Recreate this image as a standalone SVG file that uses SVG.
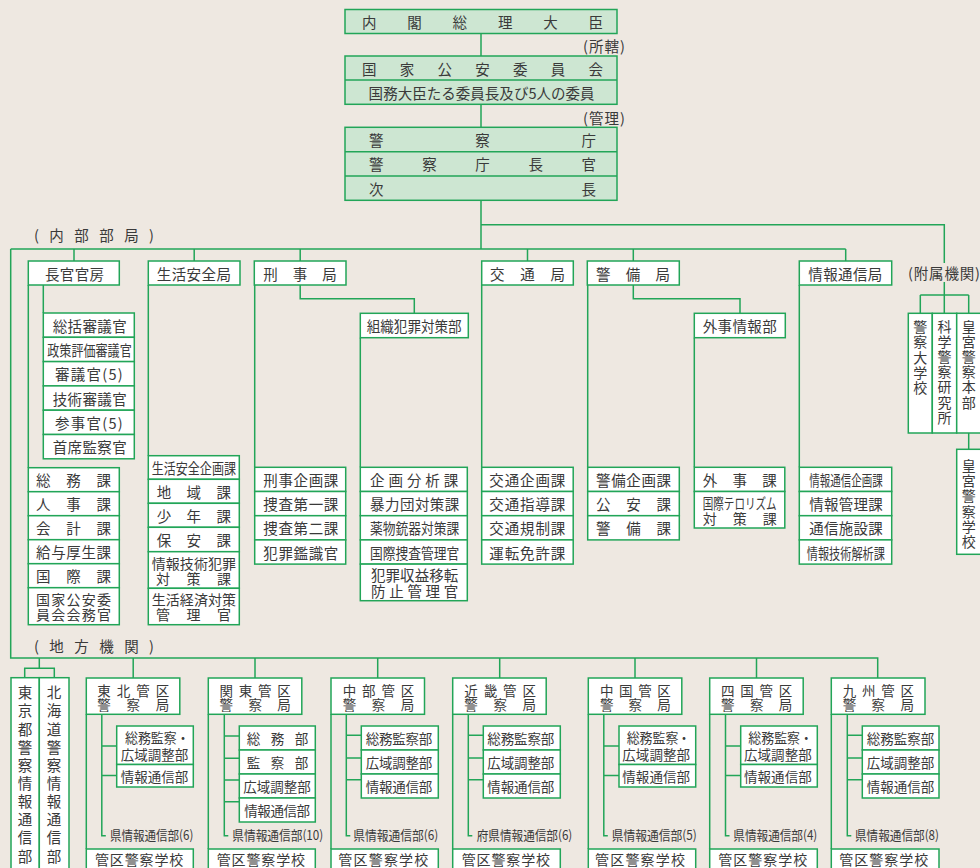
<svg xmlns="http://www.w3.org/2000/svg" width="980" height="868" viewBox="0 0 980 868">
<style>
.b{fill:#fff;stroke:#22a558;stroke-width:1.5}
.g{fill:#cde6d2;stroke:#22a558;stroke-width:1.5}
.ln{fill:none;stroke:#22a558;stroke-width:1.5}
.t{font-family:"Noto Sans CJK JP","Noto Sans",sans-serif;font-size:14.5px;fill:#3a3a3a;dominant-baseline:central}
.s{font-size:13px}
.r{font-size:13.5px}
.v{font-size:14px}
.m{text-anchor:middle}
.k{font-size:14px}
</style>
<rect width="980" height="868" fill="#eee8e1"/>

<g id="connectors">
<path class="ln" d="M481 33.5V56M481 104.3V127.3M481 200.3V249M481 224.7H944.3V263M944.3 282V295M920.3 295H968.7M920.3 295V313.3M944.3 295V313.3M968.7 295V313.3M968.7 433V449.3"/>
<path class="ln" d="M10.7 249H845.7M74 249V261M194.2 249V261M300.2 249V261M527.5 249V261M633.3 249V261M845.7 249V261"/>
<path class="ln" d="M28.3 285V467.7M43.3 285V313M148.3 285V455.7M254.7 285V467.3M300.2 285V298.7H414.3V313.3M360.3 337.7V467.3M481.7 285V467.3M587.7 285V467.3M633.3 285V298.7H740V313.3M694.3 337.7V467.3M799.3 285V467.3"/>
<path class="ln" d="M10.7 249V658H877.7V678M39.3 658V668.3M24.7 677.7V668.3H54.3V677.7M133.2 658V678M255 658V678M377.7 658V678M499.7 658V678M635 658V678M756.5 658V678"/>
<path class="ln" d="M86.3 714.3V849M101.8 714.3V835.7H105.8M101.8 746H116.7M101.8 775.5H116.7"/>
<path class="ln" d="M208.3 714.3V849M224.3 714.3V835.7H228.3M224.3 736H239.3M224.3 758.3H239.3M224.3 780H239.3M224.3 801.7H239.3"/>
<path class="ln" d="M331 714.3V849M346.3 714.3V835.7H350.3M346.3 735.3H361.3M346.3 758H361.3M346.3 779.7H361.3"/>
<path class="ln" d="M452.7 714.3V849M468.3 714.3V835.7H472.3M468.3 735.3H483.3M468.3 758H483.3M468.3 779.7H483.3"/>
<path class="ln" d="M588.3 714.3V849M603.8 714.3V835.7H607.8M603.8 746H619M603.8 775.5H619"/>
<path class="ln" d="M709.7 714.3V849M725.5 714.3V835.7H729.5M725.5 746H740.7M725.5 775.5H740.7"/>
<path class="ln" d="M831.3 714.3V849M847.3 714.3V835.7H851.3M847.3 735.3H862.3M847.3 758H862.3M847.3 779.7H862.3"/>
</g>

<g id="n-pm"><rect class="g" x="345" y="9.5" width="272" height="24"/><text class="t" x="362" y="21.5" textLength="241">内閣総理大臣</text></g>
<text class="t" x="583" y="45.5" textLength="42" font-size="14">(所轄)</text>
<g id="n-npsc"><rect class="g" x="345" y="56" width="272" height="48.3"/><path class="ln" d="M345 80H617"/>
<text class="t" x="362" y="68" textLength="241">国家公安委員会</text>
<text class="t" x="368.6" y="92" textLength="226">国務大臣たる委員長及び5人の委員</text></g>
<text class="t" x="583" y="117" textLength="42" font-size="14">(管理)</text>
<g id="n-npa"><rect class="g" x="345" y="127.3" width="272" height="73"/><path class="ln" d="M345 151.7H617M345 176H617"/>
<text class="t" x="369" y="139.5" textLength="227">警察庁</text>
<text class="t" x="369" y="163.8" textLength="227">警察庁長官</text>
<text class="t" x="369" y="188" textLength="227">次長</text></g>

<text class="t" x="34" y="234.3" textLength="120" font-size="13.5">(内部部局)</text>
<text class="t" x="908" y="272" textLength="72">(附属機関)</text>
<text class="t" x="34" y="645" textLength="120" font-size="13.5">(地方機関)</text>

<g id="n-chokan"><rect class="b" x="28.3" y="261" width="91" height="24"/><text class="t" x="45" y="273" textLength="59">長官官房</text></g>
<g id="n-seikatsu"><rect class="b" x="148.3" y="261" width="91.7" height="24"/><text class="t" x="156.7" y="273" textLength="74.3">生活安全局</text></g>
<g id="n-keiji"><rect class="b" x="254.3" y="261" width="91.7" height="24"/><text class="t" x="263.3" y="273" textLength="73.4">刑事局</text></g>
<g id="n-kotsu"><rect class="b" x="481.7" y="261" width="91.6" height="24"/><text class="t" x="490" y="273" textLength="75">交通局</text></g>
<g id="n-keibi"><rect class="b" x="587.3" y="261" width="92" height="24"/><text class="t" x="596" y="273" textLength="74">警備局</text></g>
<g id="n-joho"><rect class="b" x="799.3" y="261" width="92.4" height="24"/><text class="t" x="808.3" y="273" textLength="74">情報通信局</text></g>
<g id="n-soshiki"><rect class="b" x="360.3" y="313.3" width="108" height="24.4"/><text class="t" x="366.7" y="325.5" textLength="95" lengthAdjust="spacingAndGlyphs">組織犯罪対策部</text></g>
<g id="n-gaiji"><rect class="b" x="694.3" y="313.3" width="91" height="24.4"/><text class="t" x="702.7" y="325.5" textLength="74">外事情報部</text></g>

<g id="n-chokan-staff">
<rect class="b" x="43.3" y="313" width="91" height="24.3"/><rect class="b" x="43.3" y="337.3" width="91" height="24.3"/><rect class="b" x="43.3" y="361.6" width="91" height="24.3"/><rect class="b" x="43.3" y="385.9" width="91" height="24.3"/><rect class="b" x="43.3" y="410.2" width="91" height="24.3"/><rect class="b" x="43.3" y="434.5" width="91" height="24.3"/>
<text class="t" x="52.7" y="325.2" textLength="74">総括審議官</text>
<text class="t" x="47.3" y="349.5" textLength="84.4" lengthAdjust="spacingAndGlyphs">政策評価審議官</text>
<text class="t" x="55" y="373.8" textLength="67.7">審議官(5)</text>
<text class="t" x="52.7" y="398.1" textLength="74">技術審議官</text>
<text class="t" x="55" y="422.4" textLength="67.7">参事官(5)</text>
<text class="t" x="52.7" y="446.7" textLength="74">首席監察官</text>
</g>
<g id="n-chokan-ka">
<rect class="b" x="28.3" y="467.7" width="91" height="24"/><rect class="b" x="28.3" y="491.7" width="91" height="24"/><rect class="b" x="28.3" y="515.7" width="91" height="24"/><rect class="b" x="28.3" y="539.7" width="91" height="24"/><rect class="b" x="28.3" y="563.7" width="91" height="24"/><rect class="b" x="28.3" y="587.7" width="91" height="37"/>
<text class="t" x="36" y="479.7" textLength="75">総務課</text>
<text class="t" x="36" y="503.7" textLength="75">人事課</text>
<text class="t" x="36" y="527.7" textLength="75">会計課</text>
<text class="t" x="36" y="551.7" textLength="75">給与厚生課</text>
<text class="t" x="36" y="575.7" textLength="75">国際課</text>
<text class="t k" x="36" y="598.7" textLength="75">国家公安委</text>
<text class="t k" x="36" y="613.5" textLength="75">員会会務官</text>
</g>
<g id="n-seikatsu-ka">
<rect class="b" x="148.3" y="455.7" width="91" height="23.6"/><rect class="b" x="148.3" y="479.3" width="91" height="24"/><rect class="b" x="148.3" y="503.3" width="91" height="24"/><rect class="b" x="148.3" y="527.3" width="91" height="24.4"/><rect class="b" x="148.3" y="551.7" width="91" height="36.6"/><rect class="b" x="148.3" y="588.3" width="91" height="36.4"/>
<text class="t" x="151.7" y="467.5" textLength="84.3" lengthAdjust="spacingAndGlyphs">生活安全企画課</text>
<text class="t" x="156.7" y="491.3" textLength="74.3">地域課</text>
<text class="t" x="156.7" y="515.3" textLength="74.3">少年課</text>
<text class="t" x="156.7" y="539.5" textLength="74.3">保安課</text>
<text class="t k" x="151.7" y="562.5" textLength="84.3">情報技術犯罪</text>
<text class="t k" x="156" y="577.8" textLength="75">対策課</text>
<text class="t k" x="151.7" y="599.3" textLength="84.3">生活経済対策</text>
<text class="t k" x="156" y="614.3" textLength="75">管理官</text>
</g>
<g id="n-keiji-ka">
<rect class="b" x="254.7" y="467.3" width="91" height="24.2"/><rect class="b" x="254.7" y="491.5" width="91" height="24.2"/><rect class="b" x="254.7" y="515.7" width="91" height="24.2"/><rect class="b" x="254.7" y="539.9" width="91" height="24.2"/>
<text class="t" x="263.3" y="479.4" textLength="75">刑事企画課</text>
<text class="t" x="263.3" y="503.6" textLength="75">捜査第一課</text>
<text class="t" x="263.3" y="527.8" textLength="75">捜査第二課</text>
<text class="t" x="263.3" y="552" textLength="75">犯罪鑑識官</text>
</g>
<g id="n-soshiki-ka">
<rect class="b" x="360.3" y="467.3" width="107" height="24.2"/><rect class="b" x="360.3" y="491.5" width="107" height="24.2"/><rect class="b" x="360.3" y="515.7" width="107" height="24.2"/><rect class="b" x="360.3" y="539.9" width="107" height="24.2"/><rect class="b" x="360.3" y="564.1" width="107" height="36.6"/>
<text class="t" x="370" y="479.4" textLength="88.3">企画分析課</text>
<text class="t" x="370" y="503.6" textLength="89.3">暴力団対策課</text>
<text class="t" x="370" y="527.8" textLength="89.3" lengthAdjust="spacingAndGlyphs">薬物銃器対策課</text>
<text class="t" x="370" y="552" textLength="89.3" lengthAdjust="spacingAndGlyphs">国際捜査管理官</text>
<text class="t" x="371" y="574.7" textLength="87.3">犯罪収益移転</text>
<text class="t" x="371" y="590.2" textLength="87.3">防止管理官</text>
</g>
<g id="n-kotsu-ka">
<rect class="b" x="481.7" y="467.3" width="91.5" height="24.2"/><rect class="b" x="481.7" y="491.5" width="91.5" height="24.2"/><rect class="b" x="481.7" y="515.7" width="91.5" height="24.2"/><rect class="b" x="481.7" y="539.9" width="91.5" height="24.2"/>
<text class="t" x="489.3" y="479.4" textLength="76">交通企画課</text>
<text class="t" x="489.3" y="503.6" textLength="76">交通指導課</text>
<text class="t" x="489.3" y="527.8" textLength="76">交通規制課</text>
<text class="t" x="489.3" y="552" textLength="76">運転免許課</text>
</g>
<g id="n-keibi-ka">
<rect class="b" x="587.7" y="467.3" width="91.6" height="24.2"/><rect class="b" x="587.7" y="491.5" width="91.6" height="24.2"/><rect class="b" x="587.7" y="515.7" width="91.6" height="24.2"/>
<text class="t" x="596" y="479.4" textLength="75">警備企画課</text>
<text class="t" x="596" y="503.6" textLength="75">公安課</text>
<text class="t" x="596" y="527.8" textLength="75">警備課</text>
</g>
<g id="n-gaiji-ka">
<rect class="b" x="694.3" y="467.3" width="90.5" height="24.2"/><rect class="b" x="694.3" y="491.5" width="90.5" height="36.5"/>
<text class="t" x="702.7" y="479.4" textLength="74">外事課</text>
<text class="t" x="702.7" y="502" textLength="74" font-size="13.5" lengthAdjust="spacingAndGlyphs">国際テロリズム</text>
<text class="t k" x="702.7" y="518.3" textLength="74">対策課</text>
</g>
<g id="n-joho-ka">
<rect class="b" x="799.3" y="467.3" width="92.4" height="24.2"/><rect class="b" x="799.3" y="491.5" width="92.4" height="24.2"/><rect class="b" x="799.3" y="515.7" width="92.4" height="24.2"/><rect class="b" x="799.3" y="539.9" width="92.4" height="24.2"/>
<text class="t" x="809.3" y="479.4" textLength="73.4" font-size="13" lengthAdjust="spacingAndGlyphs">情報通信企画課</text>
<text class="t" x="809.3" y="503.6" textLength="73.4">情報管理課</text>
<text class="t" x="809.3" y="527.8" textLength="73.4">通信施設課</text>
<text class="t" x="806.7" y="552" textLength="78.3" font-size="13.5" lengthAdjust="spacingAndGlyphs">情報技術解析課</text>
</g>

<g id="n-daigakko"><rect class="b" x="908.3" y="313.3" width="24" height="119.7"/><text class="t v m" x="920.3 920.3 920.3 920.3 920.3" y="326 341.3 356.6 371.9 387.2">警察大学校</text></g>
<g id="n-kakenken"><rect class="b" x="932.3" y="313.3" width="24.4" height="119.7"/><text class="t v m" x="944.5 944.5 944.5 944.5 944.5 944.5 944.5" y="326 341.1 356.2 371.3 386.4 401.5 416.6">科学警察研究所</text></g>
<g id="n-kogu"><rect class="b" x="956.7" y="313.3" width="24.3" height="119.7"/><text class="t v m" x="968.8 968.8 968.8 968.8 968.8 968.8" y="326 341.1 356.2 371.3 386.4 401.5">皇宮警察本部</text></g>
<g id="n-kogu-gakko"><rect class="b" x="956.7" y="449.3" width="24.3" height="105"/><text class="t v m" x="968.8 968.8 968.8 968.8 968.8 968.8" y="465 480.2 495.4 510.6 525.8 541">皇宮警察学校</text></g>

<g id="n-tokyo"><rect class="b" x="11" y="677.7" width="28.3" height="200"/><text class="t m" font-size="15" x="25 25 25 25 25 25 25 25 25 25" y="691.7 709.9 728 746.2 764.3 782.5 800.6 818.8 836.9 855">東京都警察情報通信部</text></g>
<g id="n-hokkaido"><rect class="b" x="39.3" y="677.7" width="29.7" height="200"/><text class="t m" font-size="15" x="54 54 54 54 54 54 54 54 54 54" y="691.7 709.9 728 746.2 764.3 782.5 800.6 818.8 836.9 855">北海道警察情報通信部</text></g>

<g id="n-tohoku">
<rect class="b" x="86.3" y="678" width="93.5" height="36.3"/>
<text class="t r" x="97.3" y="689.5" textLength="72">東北管区</text><text class="t r" x="97.3" y="704.2" textLength="72">警察局</text>
<rect class="b" x="116.7" y="726" width="76.6" height="38.5"/><rect class="b" x="116.7" y="764.5" width="76.6" height="22.5"/>
<text class="t r" x="125" y="737.3" textLength="51.7" lengthAdjust="spacingAndGlyphs">総務監察</text><text class="t r m" x="183" y="737.3">・</text>
<text class="t r" x="120.7" y="753.5" textLength="67.6">広域調整部</text>
<text class="t r" x="120.7" y="775.7" textLength="67.6">情報通信部</text>
<text class="t s" x="110" y="834" textLength="83.3" lengthAdjust="spacingAndGlyphs">県情報通信部(6)</text>
<rect class="b" x="86.3" y="849" width="107" height="25"/><text class="t k" x="95" y="858.5" textLength="88.3">管区警察学校</text>
</g>
<g id="n-kanto">
<rect class="b" x="208.3" y="678" width="93.5" height="36.3"/>
<text class="t r" x="219.5" y="689.5" textLength="71.3">関東管区</text><text class="t r" x="219.5" y="704.2" textLength="71.3">警察局</text>
<rect class="b" x="239.3" y="726" width="76" height="24"/><rect class="b" x="239.3" y="750" width="76" height="24"/><rect class="b" x="239.3" y="774" width="76" height="24"/><rect class="b" x="239.3" y="798" width="76" height="24"/>
<text class="t r" x="246.7" y="738" textLength="61.6">総務部</text>
<text class="t r" x="246.7" y="762" textLength="61.6">監察部</text>
<text class="t r" x="243.3" y="786" textLength="67.4">広域調整部</text>
<text class="t r" x="244.3" y="810" textLength="65.7">情報通信部</text>
<text class="t s" x="232.3" y="834" textLength="91" lengthAdjust="spacingAndGlyphs">県情報通信部(10)</text>
<rect class="b" x="208.3" y="849" width="107" height="25"/><text class="t k" x="216.7" y="858.5" textLength="88.3">管区警察学校</text>
</g>
<g id="n-chubu">
<rect class="b" x="331" y="678" width="93.5" height="36.3"/>
<text class="t r" x="342.7" y="689.5" textLength="71.6">中部管区</text><text class="t r" x="342.7" y="704.2" textLength="71.6">警察局</text>
<rect class="b" x="361.3" y="726" width="77" height="24"/><rect class="b" x="361.3" y="750" width="77" height="24"/><rect class="b" x="361.3" y="774" width="77" height="24"/>
<text class="t r" x="365.7" y="738" textLength="66.6">総務監察部</text>
<text class="t r" x="365.7" y="762" textLength="66.6">広域調整部</text>
<text class="t r" x="365.7" y="786" textLength="66.6">情報通信部</text>
<text class="t s" x="353.3" y="834" textLength="85" lengthAdjust="spacingAndGlyphs">県情報通信部(6)</text>
<rect class="b" x="331" y="849" width="107.3" height="25"/><text class="t k" x="338.3" y="858.5" textLength="90">管区警察学校</text>
</g>
<g id="n-kinki">
<rect class="b" x="452.7" y="678" width="93.5" height="36.3"/>
<text class="t r" x="464.3" y="689.5" textLength="71.7">近畿管区</text><text class="t r" x="464.3" y="704.2" textLength="71.7">警察局</text>
<rect class="b" x="483.3" y="726" width="77" height="24"/><rect class="b" x="483.3" y="750" width="77" height="24"/><rect class="b" x="483.3" y="774" width="77" height="24"/>
<text class="t r" x="487.3" y="738" textLength="67">総務監察部</text>
<text class="t r" x="487.3" y="762" textLength="67">広域調整部</text>
<text class="t r" x="487.3" y="786" textLength="67">情報通信部</text>
<text class="t s" x="476.7" y="834" textLength="95.6" lengthAdjust="spacingAndGlyphs">府県情報通信部(6)</text>
<rect class="b" x="452.7" y="849" width="107.6" height="25"/><text class="t k" x="461.7" y="858.5" textLength="88.3">管区警察学校</text>
</g>
<g id="n-chugoku">
<rect class="b" x="588.3" y="678" width="93.5" height="36.3"/>
<text class="t r" x="600" y="689.5" textLength="70.7">中国管区</text><text class="t r" x="600" y="704.2" textLength="70.7">警察局</text>
<rect class="b" x="619" y="726" width="76.7" height="38.5"/><rect class="b" x="619" y="764.5" width="76.7" height="22.5"/>
<text class="t r" x="626.7" y="737.3" textLength="51.7" lengthAdjust="spacingAndGlyphs">総務監察</text><text class="t r m" x="684" y="737.3">・</text>
<text class="t r" x="622.3" y="753.5" textLength="67.7">広域調整部</text>
<text class="t r" x="622.3" y="775.7" textLength="67.7">情報通信部</text>
<text class="t s" x="611.7" y="834" textLength="85" lengthAdjust="spacingAndGlyphs">県情報通信部(5)</text>
<rect class="b" x="588.3" y="849" width="107.4" height="25"/><text class="t k" x="595" y="858.5" textLength="90">管区警察学校</text>
</g>
<g id="n-shikoku">
<rect class="b" x="709.7" y="678" width="93.5" height="36.3"/>
<text class="t r" x="721" y="689.5" textLength="71.3">四国管区</text><text class="t r" x="721" y="704.2" textLength="71.3">警察局</text>
<rect class="b" x="740.7" y="726" width="76.6" height="38.5"/><rect class="b" x="740.7" y="764.5" width="76.6" height="22.5"/>
<text class="t r" x="748.3" y="737.3" textLength="51.7" lengthAdjust="spacingAndGlyphs">総務監察</text><text class="t r m" x="806.3" y="737.3">・</text>
<text class="t r" x="744" y="753.5" textLength="67.7">広域調整部</text>
<text class="t r" x="744" y="775.7" textLength="67.7">情報通信部</text>
<text class="t s" x="733.3" y="834" textLength="84" lengthAdjust="spacingAndGlyphs">県情報通信部(4)</text>
<rect class="b" x="709.7" y="849" width="107.6" height="25"/><text class="t k" x="718.3" y="858.5" textLength="89">管区警察学校</text>
</g>
<g id="n-kyushu">
<rect class="b" x="831.3" y="678" width="93.7" height="36.3"/>
<text class="t r" x="842.7" y="689.5" textLength="71.3">九州管区</text><text class="t r" x="842.7" y="704.2" textLength="71.3">警察局</text>
<rect class="b" x="862.3" y="726" width="76.7" height="24"/><rect class="b" x="862.3" y="750" width="76.7" height="24"/><rect class="b" x="862.3" y="774" width="76.7" height="24"/>
<text class="t r" x="866.7" y="738" textLength="67.6">総務監察部</text>
<text class="t r" x="866.7" y="762" textLength="67.6">広域調整部</text>
<text class="t r" x="866.7" y="786" textLength="67.6">情報通信部</text>
<text class="t s" x="855" y="834" textLength="84" lengthAdjust="spacingAndGlyphs">県情報通信部(8)</text>
<rect class="b" x="831.3" y="849" width="107.7" height="25"/><text class="t k" x="839.3" y="858.5" textLength="89">管区警察学校</text>
</g>
</svg>
